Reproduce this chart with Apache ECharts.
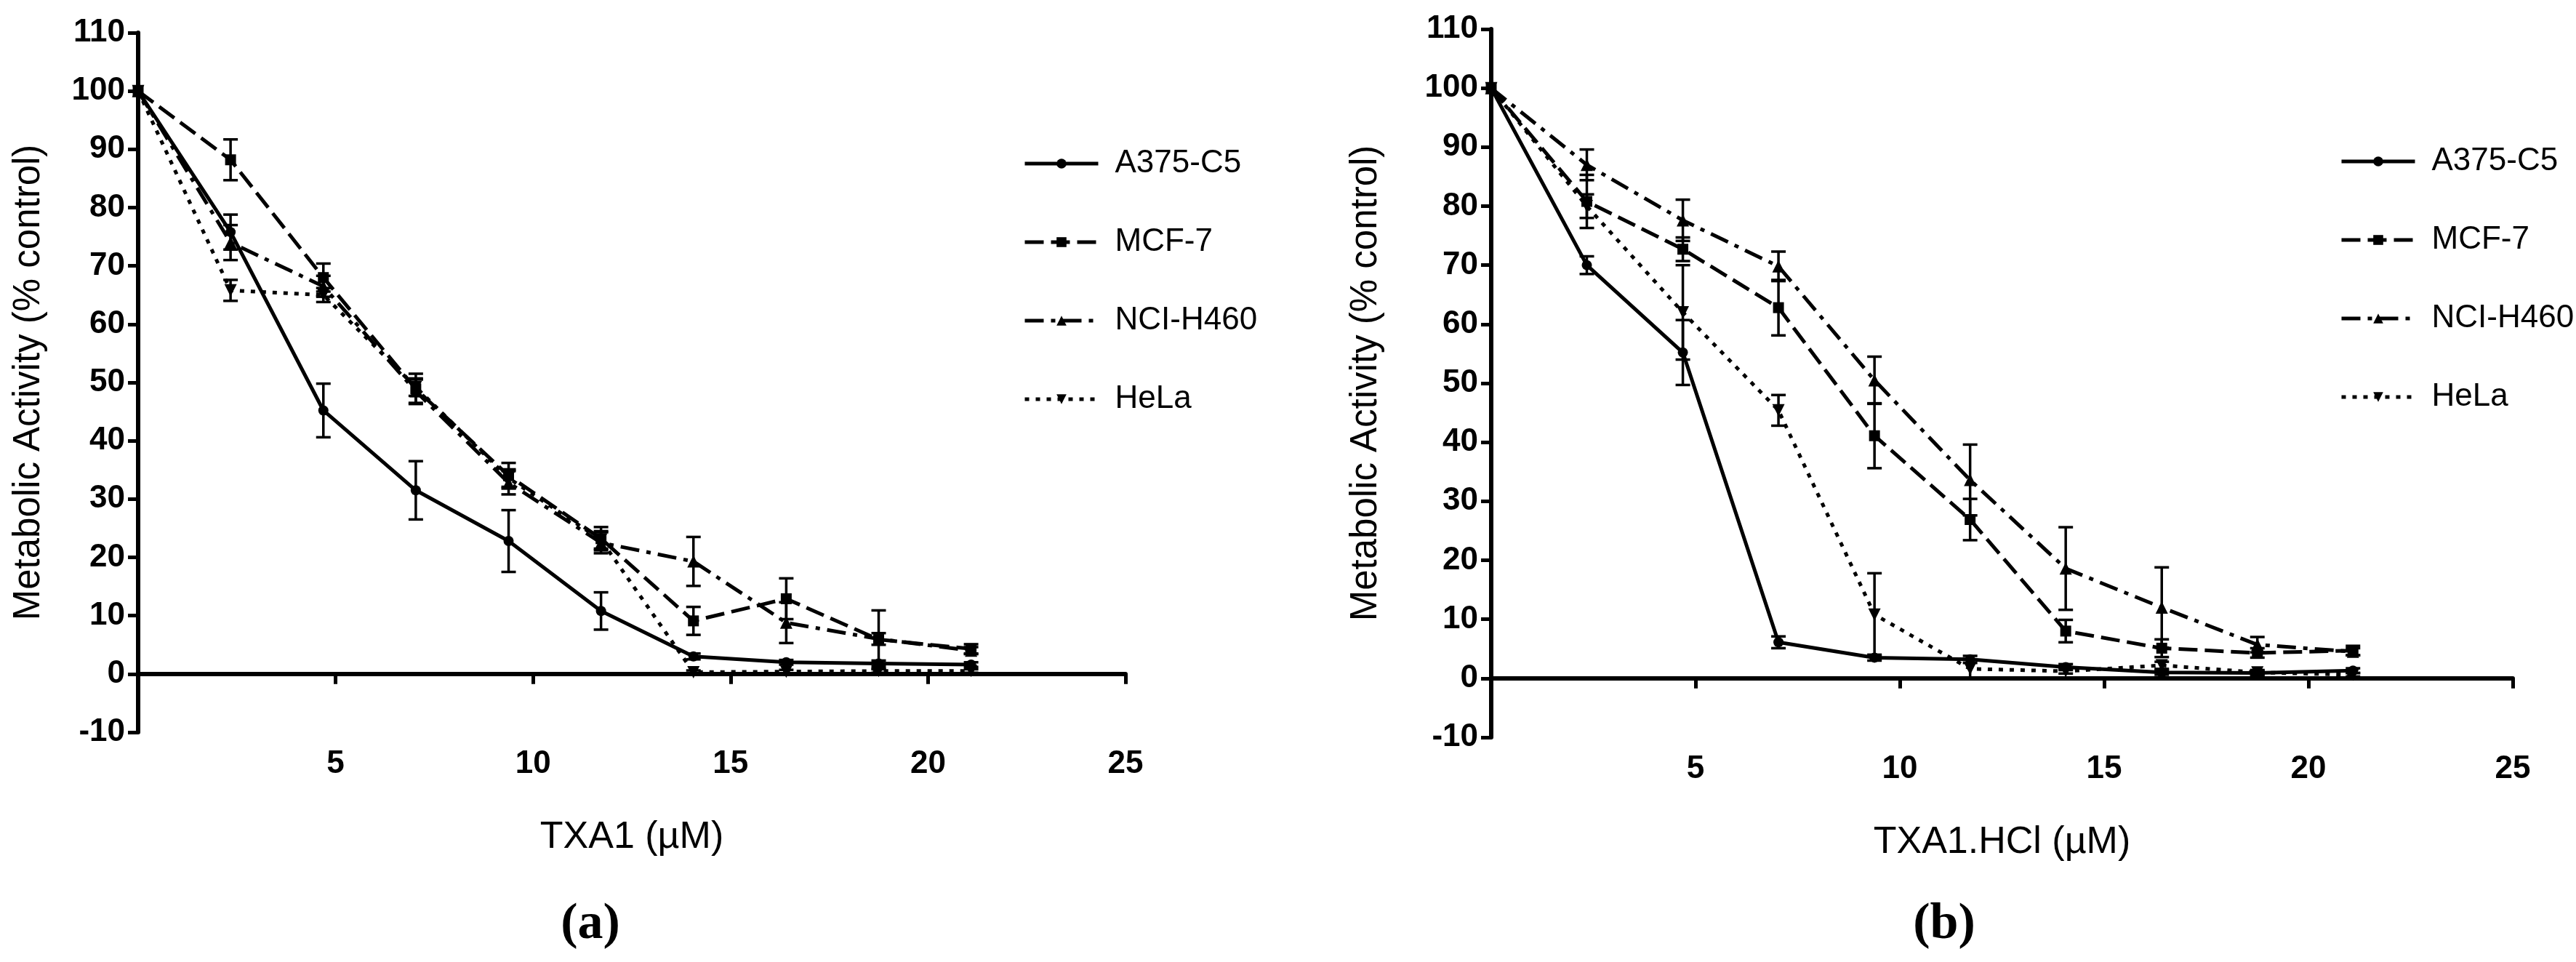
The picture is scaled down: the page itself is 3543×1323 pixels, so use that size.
<!DOCTYPE html>
<html>
<head>
<meta charset="utf-8">
<script src="https://cdn.jsdelivr.net/npm/echarts@6/dist/echarts.min.js"></script>
<style>
  html, body { margin: 0; padding: 0; background: #fff; }
  #chart { width: 3543px; height: 1323px; }
</style>
</head>
<body>
<div id="chart"></div>
<script>
// concentrations (µM), same for both panels
const dose = [0, 2.34, 4.69, 7.03, 9.38, 11.72, 14.06, 16.41, 18.75, 21.09];
const cellLines = ["A375-C5", "MCF-7", "NCI-H460", "HeLa"];
const yTicks = [-10, 110, 10]; // min, max, step

// panel (a) TXA1 - mean and SD
const a375A = [100, 75.8, 45.2, 31.5, 22.8, 10.8, 3.0, 2.0, 1.8, 1.6];
const a375A_sd = [0, 3.0, 4.6, 5.0, 5.3, 3.2, 0.5, 0.4, 0.5, 0.4];
const mcfA = [100, 88.2, 68.0, 48.9, 34.0, 23.2, 9.1, 12.9, 5.9, 4.3];
const mcfA_sd = [0, 3.5, 2.4, 2.6, 2.2, 2.0, 2.4, 3.5, 5.0, 0.8];
const nciA = [100, 74.0, 66.5, 48.5, 32.8, 22.5, 19.3, 8.8, 6.0, 4.0];
const nciA_sd = [0, 3.0, 1.8, 2.0, 2.0, 1.8, 4.2, 3.5, 1.0, 0.6];
const helaA = [100, 65.8, 65.0, 49.2, 33.6, 23.0, 0.3, 0.4, 0.5, 0.5];
const helaA_sd = [0, 1.8, 1.2, 1.5, 1.5, 1.5, 0.3, 0.3, 0.3, 0.3];

// panel (b) TXA1.HCl - mean and SD
const a375B = [100, 70.0, 55.2, 6.1, 3.5, 3.2, 1.9, 1.0, 0.9, 1.3];
const a375B_sd = [0, 1.5, 5.5, 1.0, 0.5, 0.6, 0.5, 0.4, 0.4, 0.4];
const mcfB = [100, 80.8, 72.7, 62.8, 41.1, 26.9, 8.0, 5.1, 4.3, 4.7];
const mcfB_sd = [0, 4.5, 2.0, 4.7, 5.5, 3.5, 1.9, 1.5, 0.8, 0.8];
const nciB = [100, 87.0, 77.6, 69.8, 50.5, 33.6, 18.6, 12.0, 5.7, 4.5];
const nciB_sd = [0, 2.6, 3.5, 2.5, 4.0, 6.0, 7.0, 6.8, 1.3, 0.6];
const helaB = [100, 80.0, 62.0, 45.4, 10.8, 1.6, 1.2, 2.2, 1.0, 0.6];
const helaB_sd = [0, 2.0, 8.0, 2.6, 7.0, 1.5, 0.4, 0.6, 0.4, 0.3];

const panels = [
    { means: [a375A, mcfA, nciA, helaA], sds: [a375A_sd, mcfA_sd, nciA_sd, helaA_sd], xName: "TXA1 (µM)" },
    { means: [a375B, mcfB, nciB, helaB], sds: [a375B_sd, mcfB_sd, nciB_sd, helaB_sd], xName: "TXA1.HCl (µM)" }
];

// look of each cell line
const looks = [
    { symbol: "circle", size: 14, dash: "solid", rotate: 0 },
    { symbol: "rect", size: 15, dash: [26, 10], rotate: 0 },
    { symbol: "triangle", size: 17, dash: [26, 10, 6, 10], rotate: 0 },
    { symbol: "triangle", size: 17, dash: [6, 9], rotate: 180 }
];

const SANS = "Liberation Sans";

// layout of the two panels (px)
const grids = [
    { left: 190, top: 45, width: 1358, height: 962, yNameGap: 125, legendLeft: 1402, legendTop: 198, tag: "(a)", tagX: 812 },
    { left: 2051, top: 40, width: 1405, height: 974, yNameGap: 147, legendLeft: 3213, legendTop: 195, tag: "(b)", tagX: 2674 }
];

function errorBars(name, p, means, sds) {
    const data = [];
    dose.forEach((d, k) => {
        if (sds[k] > 0) data.push([d, means[k] - sds[k], means[k] + sds[k]]);
    });
    return {
        type: "custom",
        name: name + " SD",
        xAxisIndex: p,
        yAxisIndex: p,
        silent: true,
        z: 2,
        data: data,
        renderItem: (params, api) => {
            const x = api.value(0);
            const lo = api.coord([x, api.value(1)]);
            const hi = api.coord([x, api.value(2)]);
            const half = 10;
            const st = { stroke: "#000", lineWidth: 3.5 };
            return {
                type: "group",
                children: [
                    { type: "line", shape: { x1: lo[0], y1: lo[1], x2: hi[0], y2: hi[1] }, style: st },
                    { type: "line", shape: { x1: lo[0] - half, y1: lo[1], x2: lo[0] + half, y2: lo[1] }, style: st },
                    { type: "line", shape: { x1: hi[0] - half, y1: hi[1], x2: hi[0] + half, y2: hi[1] }, style: st }
                ]
            };
        }
    };
}

const series = [];
panels.forEach((panel, p) => {
    cellLines.forEach((name, i) => {
        const look = looks[i];
        series.push(errorBars(name, p, panel.means[i], panel.sds[i]));
        series.push({
            type: "line",
            name: name,
            xAxisIndex: p,
            yAxisIndex: p,
            data: dose.map((d, k) => [d, panel.means[i][k]]),
            symbol: look.symbol,
            symbolSize: look.size,
            symbolRotate: look.rotate,
            showAllSymbol: true,
            lineStyle: { color: "#000", width: 5, type: look.dash },
            itemStyle: { color: "#000" },
            z: 3
        });
    });
});

const chart = echarts.init(document.getElementById("chart"));

chart.setOption({
    animation: false,
    backgroundColor: "#fff",
    grid: grids.map(g => ({ left: g.left, top: g.top, width: g.width, height: g.height })),
    xAxis: grids.map((g, p) => ({
        type: "value",
        gridIndex: p,
        min: 0,
        max: 25,
        interval: 5,
        axisLine: { show: true, onZero: true, lineStyle: { color: "#000", width: 6 } },
        axisTick: { show: true, length: 14, lineStyle: { color: "#000", width: 5 } },
        axisLabel: {
            color: "#000", fontFamily: SANS, fontWeight: "bold", fontSize: 44, margin: 22,
            formatter: v => (v === 0 ? "" : String(v))
        },
        splitLine: { show: false },
        name: panels[p].xName,
        nameLocation: "middle",
        nameGap: 119,
        nameTextStyle: { color: "#000", fontFamily: SANS, fontSize: 52 }
    })),
    yAxis: grids.map((g, p) => ({
        type: "value",
        gridIndex: p,
        min: yTicks[0],
        max: yTicks[1],
        interval: yTicks[2],
        axisLine: { show: true, onZero: false, lineStyle: { color: "#000", width: 6 } },
        axisTick: { show: true, length: 14, lineStyle: { color: "#000", width: 5 } },
        axisLabel: { color: "#000", fontFamily: SANS, fontWeight: "bold", fontSize: 44, margin: 18 },
        splitLine: { show: false },
        name: "Metabolic Activity (% control)",
        nameLocation: "middle",
        nameGap: g.yNameGap,
        nameTextStyle: { color: "#000", fontFamily: SANS, fontSize: 51 }
    })),
    legend: grids.map(g => ({
        data: cellLines,
        orient: "vertical",
        left: g.legendLeft,
        top: g.legendTop,
        itemWidth: 101,
        itemHeight: 17,
        itemGap: 64,
        selectedMode: false,
        lineStyle: { width: 5 },
        textStyle: { color: "#000", fontFamily: SANS, fontSize: 44, lineHeight: 44, padding: [0, 0, 0, 18] }
    })),
    graphic: grids.map(g => ({
        type: "text",
        x: g.tagX,
        y: 1272,
        style: {
            text: g.tag,
            fill: "#000",
            font: "bold 70px 'Liberation Serif'",
            textAlign: "center",
            textVerticalAlign: "middle"
        }
    })),
    series: series
});
</script>
</body>
</html>
